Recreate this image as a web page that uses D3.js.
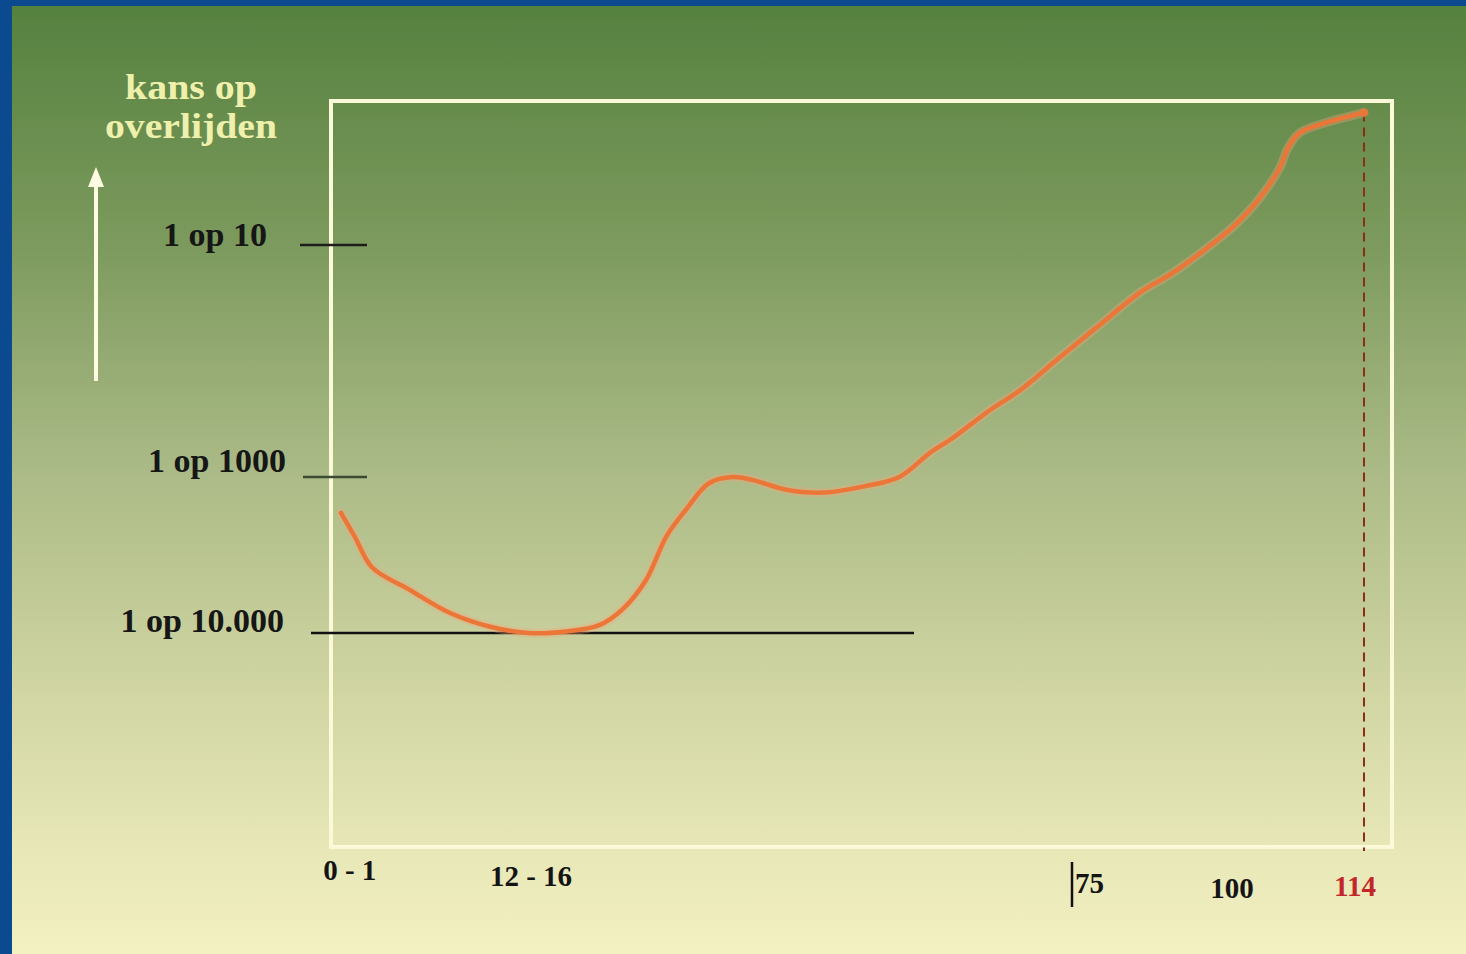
<!DOCTYPE html>
<html>
<head>
<meta charset="utf-8">
<script src="https://cdn.jsdelivr.net/npm/d3@7"></script>
<style>
	html, body {margin: 0; padding: 0; overflow: hidden; background: #0b4a8e;}
	text {font-family: "Liberation Serif", "DejaVu Serif", serif; font-weight: bold;}
</style>
</head>
<body>
<svg id="chart"></svg>
<script>
/*
	Data
	* ages along the bottom, kans as log10 of the probability (1 op 10 = -1)
*/
const ages = [0, 1, 2.3, 5, 8, 11, 13.8, 18, 21.7, 24.3, 27, 29.3, 31.5, 34.1, 36.8, 39.1, 42.7, 47.1, 51.6, 55.6,
	59.1, 61.7, 65.9, 69.3, 73.4, 79, 85.7, 90.8, 97, 100.5, 103, 105.1, 105.9, 107.2, 110, 112.2, 114]
const logKans = [-3.23, -3.38, -3.58, -3.72, -3.87, -3.96, -4.0, -3.99, -3.95, -3.85, -3.66, -3.38, -3.21, -3.04, -3.0, -3.02, -3.08, -3.10, -3.06, -3.0,
	-2.79, -2.66, -2.42, -2.25, -1.99, -1.71, -1.41, -1.24, -0.99, -0.85, -0.67, -0.46, -0.33, -0.22, -0.15, -0.11, -0.08]

const yTicks = [-1, -3, -4]
const yTickLabels = ['1 op 10', '1 op 1000', '1 op 10.000']
const xTicks = [0.5, 14, 75, 100, 114]
const xTickLabels = ['0 - 1', '12 - 16', '75', '100', '114']
const titleLines = ['kans op', 'overlijden']
const maxAge = 114

/*
	Drawing constants
*/
const [width, height] = [1466, 954]
const frame = {x: 331, y: 101, w: 1061, h: 746}

const svg = d3.select('#chart').attr('width', width).attr('height', height)

/*
	Background: blue strip, then the green to yellow slide gradient
*/
const defs = svg.append('defs')
const grad = defs.append('linearGradient').attr('id', 'bg').attr('x1', 0).attr('y1', 0).attr('x2', 0).attr('y2', 1)
const stops = [[0, '#55813f'], [0.25, '#7c9a5d'], [0.48, '#a9b985'], [0.7, '#cdd3a0'], [0.88, '#e6e6b6'], [1, '#f3f0c2']]
grad.selectAll('stop').data(stops).enter().append('stop')
	.attr('offset', d => d[0]).attr('stop-color', d => d[1])

svg.append('rect').attr('width', width).attr('height', height).attr('fill', '#0b4a8e')
svg.append('rect').attr('x', 12).attr('y', 6).attr('width', width - 12).attr('height', height - 6).attr('fill', 'url(#bg)')

/*
	Scales. The slide is schematic, so both are piecewise
*/
const x = d3.scaleLinear().domain([0, 14, 75, 100, 114]).range([341, 531, 1071, 1232, 1364])
const y = d3.scaleLinear().domain([-4, -3, -1, 0]).range([633, 477, 245, 101])

//frame
svg.append('rect')
	.attr('x', frame.x).attr('y', frame.y).attr('width', frame.w).attr('height', frame.h)
	.attr('fill', 'none').attr('stroke', '#fcf9d9').attr('stroke-width', 4)

/*
	Title and arrow on the left
*/
svg.append('g').selectAll('text').data(titleLines).enter().append('text')
	.attr('x', 191).attr('y', (d, i) => 99 + i * 39)
	.attr('text-anchor', 'middle').attr('font-size', 35).attr('fill', '#eef0ac')
	.attr('textLength', (d, i) => i ? 172 : 132).attr('lengthAdjust', 'spacingAndGlyphs')
	.text(d => d)

svg.append('line').attr('x1', 96).attr('x2', 96).attr('y1', 381).attr('y2', 184)
	.attr('stroke', '#fdfbe2').attr('stroke-width', 4)
svg.append('path').attr('d', 'M96,167 L104,187 L88,187 Z').attr('fill', '#fdfbe2')

/*
	Y ticks: short dashes next to the frame, the 1 op 10.000 one runs into the chart
*/
const tickLines = [[300, 367, '#1d1d1d'], [303, 367, '#3c4a34'], [311, 914, '#111']]
const yAxisG = svg.append('g')
yAxisG.selectAll('line').data(yTicks).enter().append('line')
	.attr('x1', (d, i) => tickLines[i][0]).attr('x2', (d, i) => tickLines[i][1])
	.attr('y1', d => y(d)).attr('y2', d => y(d))
	.attr('stroke', (d, i) => tickLines[i][2]).attr('stroke-width', 2.5)
const yLabelRight = [267, 286, 284]
const yLabelDy = [1, -5, -1]
yAxisG.selectAll('text').data(yTicks).enter().append('text')
	.attr('x', (d, i) => yLabelRight[i]).attr('y', (d, i) => y(d) + yLabelDy[i])
	.attr('text-anchor', 'end').attr('font-size', 34).attr('fill', '#161616')
	.text((d, i) => yTickLabels[i])

/*
	X labels
*/
const xLabelPos = [[2, 880, 'middle'], [0, 886, 'middle'], [4, 893, 'start'], [0, 898, 'middle'], [-9, 896, 'middle']]
svg.append('g').selectAll('text').data(xTicks).enter().append('text')
	.attr('x', (d, i) => x(d) + xLabelPos[i][0]).attr('y', (d, i) => xLabelPos[i][1])
	.attr('text-anchor', (d, i) => xLabelPos[i][2]).attr('font-size', 29)
	.attr('fill', d => d === maxAge ? '#c3262a' : '#141414')
	.text((d, i) => xTickLabels[i])
//little bar before the 75
svg.append('line').attr('x1', x(75) + 1).attr('x2', x(75) + 1).attr('y1', 862).attr('y2', 907)
	.attr('stroke', '#111').attr('stroke-width', 2.5)

/*
	Dashed line at the maximum age
*/
svg.append('line')
	.attr('x1', x(maxAge)).attr('x2', x(maxAge))
	.attr('y1', y(logKans[logKans.length - 1])).attr('y2', frame.y + frame.h + 4)
	.attr('stroke', '#8a2f16').attr('stroke-width', 2).attr('stroke-dasharray', '9,6')

/*
	The curve, with a soft halo under it
*/
const points = ages.map((a, i) => [a, logKans[i]])
const line = d3.line().x(d => x(d[0])).y(d => y(d[1])).curve(d3.curveCatmullRom.alpha(0.5))
svg.append('path').attr('d', line(points)).attr('fill', 'none')
	.attr('stroke', '#f3a57a').attr('stroke-width', 9).attr('stroke-opacity', 0.35).attr('stroke-linecap', 'round')
svg.append('path').attr('d', line(points)).attr('fill', 'none')
	.attr('stroke', '#ec7638').attr('stroke-width', 4.5).attr('stroke-linecap', 'round')
//end blob at the top
svg.append('circle').attr('cx', x(maxAge)).attr('cy', y(logKans[logKans.length - 1])).attr('r', 4).attr('fill', '#ec7638')
</script>
</body>
</html>
